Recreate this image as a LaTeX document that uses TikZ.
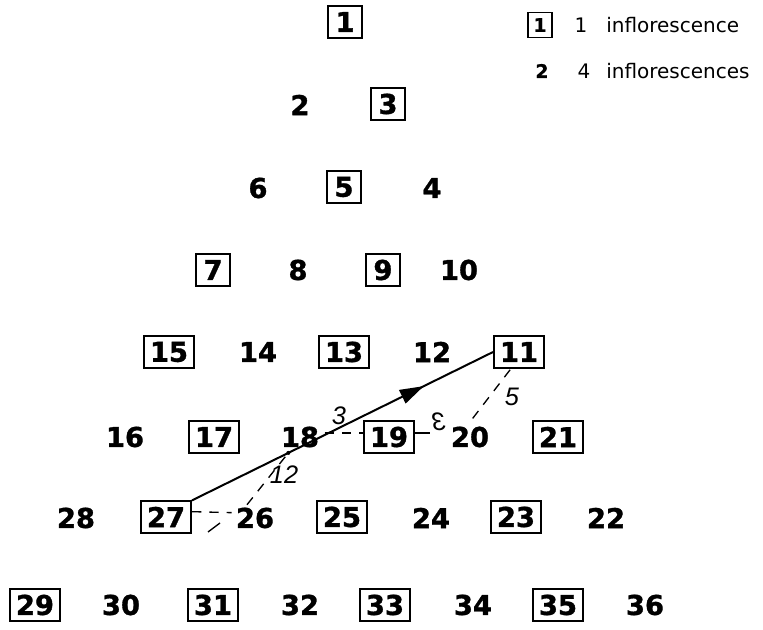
\documentclass[tikz,border=0pt]{standalone}
\usepackage{fontspec}
\setmainfont{DejaVu Sans}
\newfontfamily\numfont[FakeBold=1.2]{DejaVu Sans Bold}
\newfontfamily\handfont{Liberation Sans}
\usetikzlibrary{arrows.meta,decorations.markings,calc}
\begin{document}
\begin{tikzpicture}[x=0.75pt,y=-0.75pt,
  num/.style={font=\fontsize{20.5}{21}\numfont, inner sep=0pt},
  bx/.style={num, draw, line width=1.4pt, minimum height=23.5pt, minimum width=26pt, inner xsep=4.5pt},
  lbx/.style={draw, line width=1.2pt, font=\fontsize{14}{14}\numfont, minimum width=18pt, minimum height=19pt, inner sep=0pt},
  leg/.style={font=\fontsize{15}{15}\selectfont, inner sep=0pt},
  hand/.style={font=\fontsize{19}{19}\handfont\itshape, inner sep=0pt},
  hd/.style={line width=1pt, dash pattern=on 7pt off 6pt},
  path/.style={line width=1.5pt}
]
\useasboundingbox (0,0) rectangle (763,630);
% row 1
\node[bx] (n1) at (345,22) {1};
% row 2
\node[num] (n2) at (300,105) {2};
\node[bx] (n3) at (388,104) {3};
% row 3
\node[num] (n6) at (258,188) {6};
\node[bx] (n5) at (344,187) {5};
\node[num] (n4) at (432,188) {4};
% row 4
\node[bx] (n7) at (213,270) {7};
\node[num] (n8) at (298,270) {8};
\node[bx] (n9) at (383,270) {9};
\node[num] (n10) at (459,270) {10};
% row 5
\node[bx] (n15) at (169,352) {15};
\node[num] (n14) at (258,352) {14};
\node[bx] (n13) at (344,352) {13};
\node[num] (n12) at (432,352) {12};
\node[bx] (n11) at (519,352) {11};
% row 6
\node[num] (n16) at (125,437) {16};
\node[bx] (n17) at (214,437) {17};
\node[num] (n18) at (300,437) {18};
\node[bx] (n19) at (389,437) {19};
\node[num] (n20) at (470,437) {20};
\node[bx] (n21) at (558,437) {21};
% row 7
\node[num] (n28) at (76,518) {28};
\node[bx] (n27) at (166,517) {27};
\node[num] (n26) at (255,518) {26};
\node[bx] (n25) at (342,517) {25};
\node[num] (n24) at (431,518) {24};
\node[bx] (n23) at (516,517) {23};
\node[num] (n22) at (606,518) {22};
% row 8
\node[bx] (n29) at (35,605) {29};
\node[num] (n30) at (121,605) {30};
\node[bx] (n31) at (213,605) {31};
\node[num] (n32) at (300,605) {32};
\node[bx] (n33) at (385,605) {33};
\node[num] (n34) at (473,605) {34};
\node[bx] (n35) at (558,605) {35};
\node[num] (n36) at (645,605) {36};
% legend
\node[lbx] (l1) at (540,25) {1};
\node[leg] (l1n) at (581,25) {1};
\node[leg, anchor=west] (l1t) at (606,25) {inflorescence};
\node[num, font=\fontsize{14}{14}\numfont] (l2) at (542,71) {2};
\node[leg] (l2n) at (584,71) {4};
\node[leg, anchor=west] (l2t) at (606,71) {inflorescences};
% main arrow
\draw[path, postaction={decorate, decoration={markings, mark=at position 0.77 with {\arrow{Triangle[length=18pt,width=11pt]}}}}]
  (n27.north east) -- (n11.west);
\coordinate (m) at ($(n27.north east)!0.32!(n11.west)$);
\fill (m) circle (2);
% handwritten annotations
\draw[hd] ([yshift=4]n27.east) -- ([xshift=-3,yshift=4]n26.west);
\draw[line width=1pt] (208,532) -- (220,523);
\draw[hd] ([xshift=-6,yshift=2]n26.north) -- (m);
\node[hand] (h12) at (284,475) {12};
\draw[hd] ([xshift=4,yshift=3]n18.east) -- ([yshift=3]n19.west);
\node[hand] (h3) at (339,416) {3};
\draw[line width=1pt] ([yshift=3]n19.east) -- ++(15,0) coordinate (e1);
\node[hand, xscale=-1] (heps) at (439,422) {3};
\draw[hd] ([xshift=2,yshift=6]n20.north) -- ([xshift=-6]n11.south);
\node[hand] (h5) at (512,397) {5};
\end{tikzpicture}
\end{document}
